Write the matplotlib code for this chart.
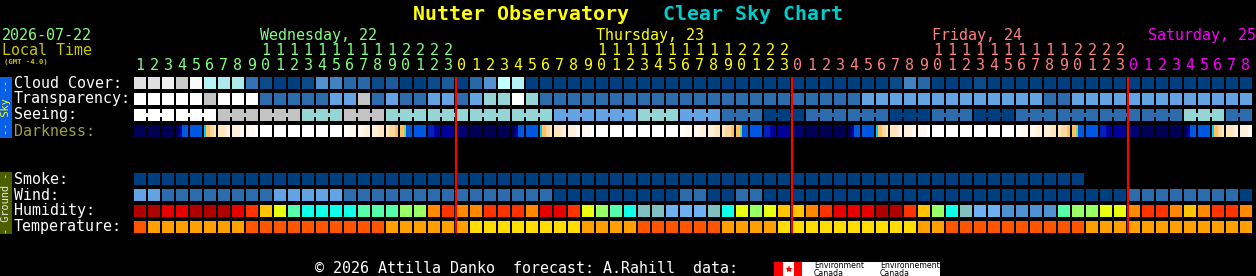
import matplotlib
matplotlib.use('Agg')
import matplotlib.pyplot as plt
import numpy as np
from matplotlib.colors import ListedColormap, BoundaryNorm

# forecast columns, one per hour starting Wed 22 01:00 local time
day_names = ['Wednesday, 22', 'Thursday, 23', 'Friday, 24', 'Saturday, 25']
day_hours = [(1, 23), (0, 23), (0, 23), (0, 8)]
day_colors = ['#80ff80', '#ffff00', '#ff8080', '#ff00ff']

# cloud cover, percent
cloud = [90, 90, 95, 85, 100, 75, 70, 70, 40, 10,
         0, 0, 10, 60, 50, 30, 30, 10, 20, 0,
         0, 10, 20, 0, 30, 60, 80, 75, 0, 0,
         0, 0, 0, 0, 0, 0, 0, 0, 0, 0,
         0, 0, 0, 0, 0, 0, 0, 0, 0, 0,
         0, 0, 0, 0, 10, 50, 30, 0, 0, 0,
         10, 0, 0, 0, 0, 0, 0, 0, 0, 0,
         0, 0, 0, 0, 0, 0, 0, 0, 0, 0]
cloud_levels = [0, 10, 20, 30, 40, 50, 60, 70, 75, 80, 85, 90, 95, 100]
cloud_cols = ['#003f7f', '#0b4b8b', '#1b5b9b', '#2868a8', '#3272b2', '#4282c2', '#5292d2',
              '#aeeaea', '#b4f4f4', '#c0ffff', '#cbcbcb', '#e0e0e0', '#efefef', '#fafafa']

# transparency and seeing: 0 too cloudy .. 5 best
transp = [0, 0, 0, 0, 0, 1, 0, 0, 0, 4,
          4, 4, 4, 4, 3, 3, 1, 4, 3, 4,
          4, 3, 3, 4, 3, 2, 2, 0, 2, 4,
          4, 4, 4, 4, 4, 4, 4, 4, 4, 4,
          4, 4, 4, 4, 4, 4, 4, 4, 4, 4,
          4, 4, 3, 3, 3, 3, 3, 3, 3, 3,
          3, 3, 3, 3, 3, 4, 4, 3, 3, 3,
          3, 3, 3, 3, 3, 3, 3, 3, 3, 3]
seeing_3h = [0, 0, 1, 1, 2, 1, 2, 2, 2, 2, 3, 3, 2, 3, 4, 5, 4, 4, 5, 4, 5, 4, 4, 4, 4, 2, 4]
sky_levels = [0, 1, 2, 3, 4, 5]
sky_cols = ['#ffffff', '#c3c3c3', '#95d5d5', '#63a3e3', '#2c6cac', '#003f7f']

# darkness: sub-hour shades inside each cell
darkness = ['N', 'N', 'N', 'NDBB', 'B', 'COOPPp', 'ppQ', 'QQq', 'qqW', 'W',
            'W', 'W', 'W', 'W', 'W', 'Wqq', 'qQ', 'Qp', 'pPPO', 'OOGBBB',
            'B', 'dD', 'D', 'n', 'N', 'N', 'N', 'NDBB', 'B', 'COOPPp',
            'ppQ', 'QQq', 'qqW', 'W', 'W', 'W', 'W', 'W', 'W', 'Wqq',
            'qQ', 'Qp', 'pPPO', 'OOGBBB', 'B', 'dD', 'D', 'n', 'N', 'N',
            'N', 'NDBB', 'B', 'COOPPp', 'ppQ', 'QQq', 'qqW', 'W', 'W', 'W',
            'W', 'W', 'W', 'Wqq', 'qQ', 'Qp', 'pPPO', 'OOGBBB', 'B', 'dD',
            'D', 'n', 'N', 'N', 'N', 'NDBB', 'B', 'COOPPp', 'ppQ', 'QQq']
dark_cols = {'N': '#000055', 'n': '#000070', 'D': '#00009a', 'd': '#0020c0',
             'B': '#0058e0', 'C': '#00ccff', 'O': '#ffc060', 'G': '#90d070',
             'P': '#ffd8a0', 'p': '#ffe6c0', 'Q': '#fff0dc', 'q': '#fff8f0',
             'W': '#ffffff'}

# smoke (ug/m3), only 68 hours forecast
smoke = [0, 0, 0, 0, 0, 0, 0, 0, 0, 0,
         0, 0, 0, 0, 0, 0, 0, 0, 0, 0,
         0, 0, 0, 0, 0, 0, 0, 0, 0, 0,
         0, 0, 0, 0, 0, 0, 0, 0, 0, 0,
         0, 0, 0, 0, 0, 0, 0, 0, 0, 0,
         0, 0, 0, 0, 0, 0, 0, 0, 0, 0,
         0, 0, 0, 0, 0, 0, 0, 0]
smoke_levels = [0]
smoke_cols = ['#003f7f']

# wind, mph
wind = [14, 14, 8, 8, 8, 8, 8, 8, 8, 8,
        14, 14, 14, 14, 14, 8, 8, 8, 8, 8,
        8, 8, 8, 8, 8, 8, 8, 8, 8, 8,
        3, 3, 3, 3, 3, 3, 3, 3, 3, 8,
        8, 3, 3, 8, 8, 3, 3, 3, 3, 3,
        3, 3, 3, 3, 3, 3, 3, 3, 3, 3,
        3, 3, 3, 3, 3, 3, 3, 3, 3, 3,
        3, 8, 8, 8, 8, 8, 8, 8, 8, 3]
wind_levels = [3, 8, 14]
wind_cols = ['#003f7f', '#2c6cac', '#63a3e3']

# relative humidity, percent
humid = [95, 95, 85, 85, 95, 95, 95, 85, 75, 65,
         60, 50, 45, 45, 45, 45, 50, 50, 50, 55,
         55, 70, 75, 70, 70, 75, 75, 75, 70, 85,
         85, 75, 60, 55, 50, 45, 40, 40, 35, 35,
         35, 40, 45, 60, 55, 60, 65, 65, 70, 75,
         85, 85, 85, 95, 95, 75, 65, 55, 45, 40,
         35, 35, 30, 30, 30, 30, 50, 55, 55, 60,
         60, 70, 75, 75, 70, 65, 70, 75, 75, 70]
humid_levels = [30, 35, 40, 45, 50, 55, 60, 65, 70, 75, 85, 95]
humid_cols = ['#5090d0', '#70b0f0', '#80c0c0', '#10ffe8', '#55ffaa', '#99ff66',
              '#eaff10', '#ffc400', '#ff8800', '#ff3300', '#e80000', '#b00000']

# temperature, F
temp = [80, 72, 72, 72, 72, 72, 72, 72, 80, 80,
        80, 80, 80, 80, 80, 80, 80, 80, 72, 72,
        72, 72, 72, 72, 64, 64, 64, 64, 64, 64,
        64, 64, 72, 72, 72, 72, 80, 80, 80, 80,
        80, 80, 72, 72, 72, 72, 64, 64, 64, 64,
        64, 64, 64, 64, 64, 64, 72, 72, 80, 80,
        80, 80, 80, 80, 80, 80, 80, 80, 72, 72,
        72, 72, 72, 72, 72, 72, 72, 72, 72, 72]
temp_levels = [64, 72, 80]
temp_cols = ['#ffdd00', '#ffa000', '#ff5500']

MONO = 'DejaVu Sans Mono'
X0, PITCH, CELL = 134, 14, 12
FS = 10.8


def to_colors(values, levels, colors):
    lv = np.array(levels, dtype=float)
    if len(lv) > 1:
        mid = (lv[1:] + lv[:-1]) / 2.0
        bounds = np.concatenate([[lv[0] - 100], mid, [lv[-1] + 100]])
    else:
        bounds = np.array([lv[0] - 100, lv[0] + 100])
    cmap = ListedColormap(colors)
    norm = BoundaryNorm(bounds, cmap.N)
    return cmap(norm(np.array(values, dtype=float)))


def cell_row(ax, values, levels, colors, top):
    xs = X0 + PITCH * np.arange(len(values))
    ax.bar(xs, CELL, width=CELL, bottom=top, align='edge',
           color=to_colors(values, levels, colors), linewidth=0)


fig = plt.figure(figsize=(12.56, 2.76), dpi=100, facecolor='black')
ax = fig.add_axes([0, 0, 1, 1])
ax.set_facecolor('black')
ax.set_xlim(0, 1256)
ax.set_ylim(276, 0)
ax.axis('off')

# hours along the top
hours, hour_day = [], []
for d, (h0, h1) in enumerate(day_hours):
    for h in range(h0, h1 + 1):
        hours.append(h)
        hour_day.append(d)
ncol = len(hours)

for i, h in enumerate(hours):
    xc = X0 + PITCH * i + CELL / 2.0
    c = day_colors[hour_day[i]]
    if h >= 10:
        ax.text(xc, 55, str(h // 10), color=c, family=MONO, fontsize=FS, ha='center', va='baseline')
    ax.text(xc, 70, str(h % 10), color=c, family=MONO, fontsize=FS, ha='center', va='baseline')

for d, name in enumerate(day_names):
    idx = [i for i in range(ncol) if hour_day[i] == d and hours[i] == 10]
    if idx:
        ax.text(X0 + PITCH * idx[0], 40, name, color=day_colors[d], family=MONO,
                fontsize=FS, ha='left', va='baseline')
    else:
        ax.text(1256, 40, name, color=day_colors[d], family=MONO,
                fontsize=FS, ha='right', va='baseline')

# titles
ax.text(413, 20, 'Nutter Observatory', color='#ffff00', family=MONO, fontsize=14.3,
        fontweight='bold', ha='left', va='baseline')
ax.text(663, 20, 'Clear Sky Chart', color='#00cccc', family=MONO, fontsize=14.3,
        fontweight='bold', ha='left', va='baseline')
ax.text(2, 40, '2026-07-22', color='#80ff80', family=MONO, fontsize=FS, va='baseline')
ax.text(2, 55, 'Local Time', color='#c8c800', family=MONO, fontsize=FS, va='baseline')
ax.text(4, 64, '(GMT -4.0)', color='#c8c800', family=MONO, fontsize=5.2,
        fontweight='bold', va='baseline')

# sky rows
cell_row(ax, cloud, cloud_levels, cloud_cols, 77)
cell_row(ax, transp, sky_levels, sky_cols, 93)

seeing = []
for g in seeing_3h:
    seeing.extend([g, g, g])
seeing = seeing[:ncol]
cell_row(ax, seeing, sky_levels, sky_cols, 109)
# join the cells of each 3-hour seeing block
see_rgba = to_colors(seeing, sky_levels, sky_cols)
for i in range(ncol - 1):
    if i % 3 != 2:
        ax.bar(X0 + PITCH * i + CELL, 4, width=PITCH - CELL, bottom=113, align='edge',
               color=see_rgba[i], linewidth=0)

for i, code in enumerate(darkness):
    w = CELL / len(code)
    for k, ch in enumerate(code):
        ax.bar(X0 + PITCH * i + k * w, CELL, width=w, bottom=125, align='edge',
               color=dark_cols[ch], linewidth=0)

# ground rows
cell_row(ax, smoke, smoke_levels, smoke_cols, 173)
cell_row(ax, wind, wind_levels, wind_cols, 189)
cell_row(ax, humid, humid_levels, humid_cols, 205)
cell_row(ax, temp, temp_levels, temp_cols, 221)

# midnight lines
for i, h in enumerate(hours):
    if h == 0:
        ax.vlines(X0 + PITCH * i - 0.5, 77, 233, color='#ff0000', linewidth=1.5, zorder=3)

# row labels
labels = [('Cloud Cover:', 77, 'white'), ('Transparency:', 93, 'white'),
          ('Seeing:', 109, 'white'), ('Darkness:', 125, '#a0a040'),
          ('Smoke:', 173, 'white'), ('Wind:', 189, 'white'),
          ('Humidity:', 205, 'white'), ('Temperature:', 221, 'white')]
for txt, top, c in labels:
    ax.text(14, top + 10.5, txt, color=c, family=MONO, fontsize=FS, va='baseline')

# side bars
ax.bar(0, 61, width=12, bottom=77, align='edge', color='#0860e8', linewidth=0)
ax.text(6, 107, '-- Sky --', color='#ffff00', family=MONO, fontsize=7.4,
        rotation=90, ha='center', va='center')
ax.bar(0, 62, width=12, bottom=172, align='edge', color='#4c5f00', linewidth=0)
ax.text(6, 203, '- Ground -', color='#e8e8e8', family=MONO, fontsize=7.4,
        rotation=90, ha='center', va='center')

# footer
ax.text(315, 273, '\u00a9 2026 Attilla Danko  forecast: A.Rahill  data:', color='white',
        family=MONO, fontsize=FS, va='baseline')
ax.bar(774, 14, width=166, bottom=262, align='edge', color='white', linewidth=0)
ax.bar(774, 14, width=9, bottom=262, align='edge', color='#ff0000', linewidth=0)
ax.bar(794, 14, width=8, bottom=262, align='edge', color='#ff0000', linewidth=0)
ax.plot(788.5, 269, marker='*', markersize=6, color='#ff0000', markeredgewidth=0)
ax.text(814, 268.5, 'Environment', color='black', fontsize=5.6, va='baseline')
ax.text(814, 275.5, 'Canada', color='black', fontsize=5.6, va='baseline')
ax.text(880, 268.5, 'Environnement', color='black', fontsize=5.6, va='baseline')
ax.text(880, 275.5, 'Canada', color='black', fontsize=5.6, va='baseline')

fig.savefig('out.png', dpi=100, facecolor='black')
